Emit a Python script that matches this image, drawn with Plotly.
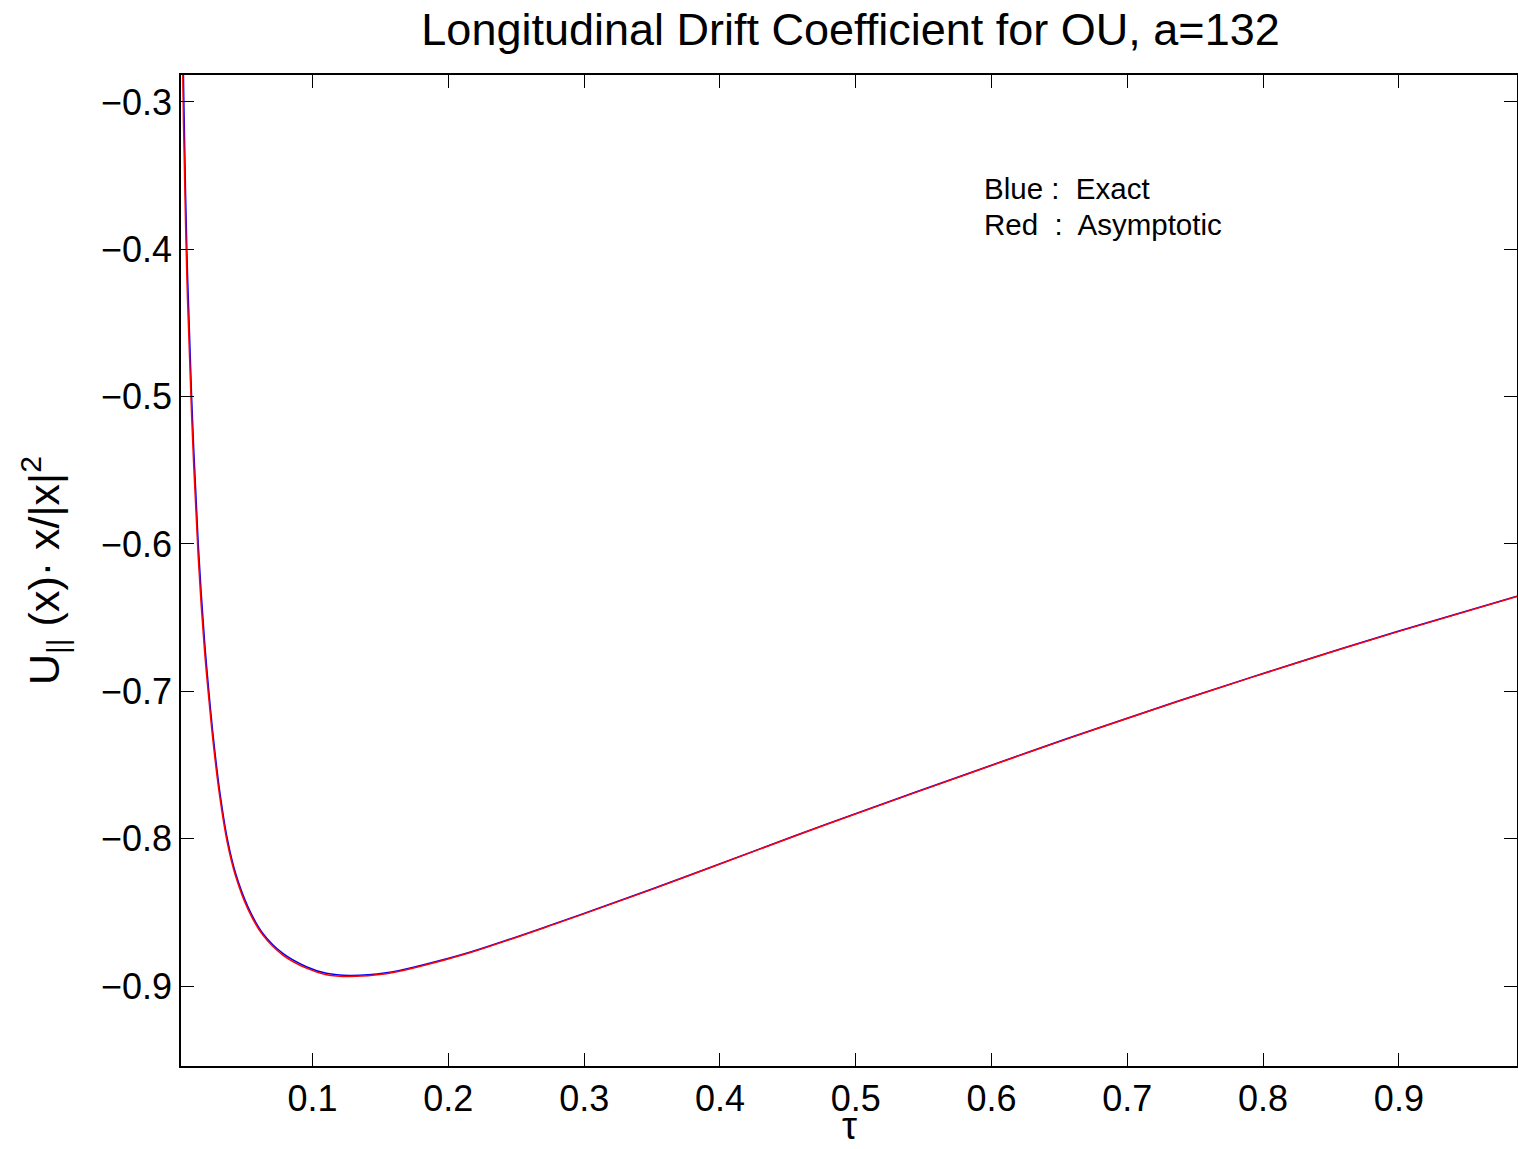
import plotly.graph_objects as go

# Data
tau = [0.0031, 0.0049, 0.0052, 0.0074, 0.0109, 0.0158, 0.0204, 0.0236, 0.0271,
       0.0315, 0.0372, 0.0433, 0.0524, 0.0634, 0.0781, 0.0954, 0.1101, 0.1273,
       0.1543, 0.1788, 0.2157, 0.282, 0.35, 0.4289, 0.4809, 0.55, 0.628,
       0.6797, 0.75, 0.8271, 0.9, 0.987]
exact = [-0.16, -0.2817, -0.30, -0.40, -0.50, -0.60, -0.6652, -0.70, -0.733,
         -0.767, -0.80, -0.8235, -0.8462, -0.8643, -0.8779, -0.8869, -0.8914, -0.8928,
         -0.8910, -0.8862, -0.8771, -0.8565, -0.8342, -0.8071, -0.7893, -0.7665, -0.7410,
         -0.7245, -0.7028, -0.6799, -0.6591, -0.6354]
asymptotic = [-0.20, -0.312, -0.325, -0.418, -0.512, -0.609, -0.672, -0.705, -0.7373,
              -0.7705, -0.8026, -0.8253, -0.8478, -0.8655, -0.8790, -0.8879, -0.8923, -0.8935,
              -0.8917, -0.8868, -0.8775, -0.8568, -0.8344, -0.8073, -0.7895, -0.7667, -0.7412,
              -0.7247, -0.7030, -0.6801, -0.6593, -0.6356]

x_ticks = [0.1, 0.2, 0.3, 0.4, 0.5, 0.6, 0.7, 0.8, 0.9]
y_ticks = [-0.9, -0.8, -0.7, -0.6, -0.5, -0.4, -0.3]
x_range = [0.0031, 0.987]
y_range = [-0.9543, -0.2817]

FONT = "Liberation Sans, Arial, Helvetica, sans-serif"

fig = go.Figure()
fig.add_trace(go.Scatter(x=tau, y=exact, mode="lines", name="Exact",
                         line=dict(color="#0000ff", width=1.5, shape="spline", smoothing=1.0)))
fig.add_trace(go.Scatter(x=tau, y=asymptotic, mode="lines", name="Asymptotic",
                         line=dict(color="#ff0000", width=1.5, shape="spline", smoothing=1.0)))

axis_common = dict(showgrid=False, zeroline=False, showline=True, linecolor="black",
                   linewidth=1.5, mirror="allticks", ticks="inside", ticklen=13,
                   tickcolor="black", tickwidth=1,
                   tickfont=dict(family=FONT, size=36, color="black"))

fig.update_xaxes(range=x_range, tickvals=x_ticks, ticktext=[str(v) for v in x_ticks],
                 **axis_common)
fig.update_yaxes(range=y_range, tickvals=y_ticks,
                 ticktext=["\u2212" + str(abs(v)) for v in y_ticks],
                 title=dict(text="U<sub>||</sub> (x)· x/|x|<sup>2</sup>",
                            font=dict(family=FONT, size=43, color="black"), standoff=28),
                 **axis_common)

# x-axis label
fig.add_annotation(x=0.5, y=-0.0837, xref="paper", yref="paper", text="τ",
                   showarrow=False, xanchor="center", yanchor="bottom",
                   font=dict(family=FONT, size=38, color="black"))

fig.add_annotation(x=0.593, y=-0.359, xref="x", yref="y", text="Blue :\u00a0 Exact",
                   showarrow=False, xanchor="left", yanchor="middle",
                   font=dict(family=FONT, size=29.5, color="black"))
fig.add_annotation(x=0.593, y=-0.383, xref="x", yref="y", text="Red \u00a0:\u00a0 Asymptotic",
                   showarrow=False, xanchor="left", yanchor="middle",
                   font=dict(family=FONT, size=29.5, color="black"))

fig.update_layout(
    width=1518, height=1149,
    margin=dict(l=181, r=1, t=75, b=83, autoexpand=False),
    paper_bgcolor="white", plot_bgcolor="white",
    showlegend=False,
    title=dict(text="Longitudinal Drift Coefficient for OU, a=132", x=0.5603, xanchor="center",
               y=0.9748, yanchor="middle",
               font=dict(family=FONT, size=45, color="black")),
)

# remove the default 8px page margin so the figure fills the window exactly
fig.write_html("out.html", config={"displayModeBar": False},
               post_script="document.body.style.margin='0';document.body.style.overflow='hidden';")
